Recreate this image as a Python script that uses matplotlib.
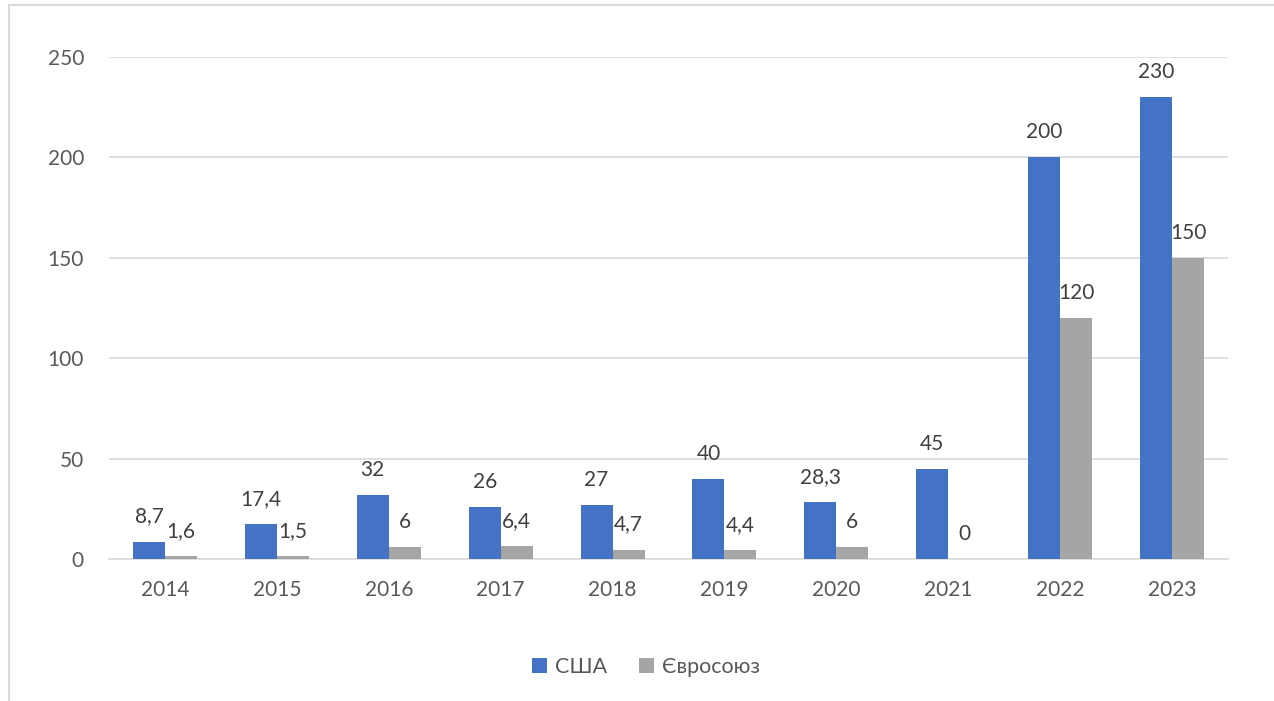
import matplotlib.pyplot as plt
import numpy as np
from matplotlib.lines import Line2D
from matplotlib.patches import Patch

years = ["2014", "2015", "2016", "2017", "2018", "2019", "2020", "2021", "2022", "2023"]
usa = [8.7, 17.4, 32, 26, 27, 40, 28.3, 45, 200, 230]
eu = [1.6, 1.5, 6, 6.4, 4.7, 4.4, 6, 0, 120, 150]
series_names = ["США", "Євросоюз"]

BLUE = "#4472C4"
GRAY = "#A5A5A5"
TEXT = "#595959"
GRID = "#D9D9D9"

plt.rcParams["font.family"] = ["Lato", "Noto Sans", "DejaVu Sans"]


def _fmt(v: float) -> str:
    s = f"{v:g}"
    return s.replace(".", ",")


fig = plt.figure(figsize=(12.74, 7.01), dpi=100)
ax = fig.add_axes([109 / 1274, 142 / 701, 1119 / 1274, 502 / 701])

x = np.arange(len(years))
w = 0.286
bars_usa = ax.bar(x - w / 2, usa, width=w, color=BLUE, zorder=3)
bars_eu = ax.bar(x + w / 2, eu, width=w, color=GRAY, zorder=3)

for bars, vals in ((bars_usa, usa), (bars_eu, eu)):
    for b, v in zip(bars, vals):
        ax.annotate(_fmt(v), (b.get_x() + b.get_width() / 2, v),
                    xytext=(0, 18), textcoords="offset points",
                    ha="center", va="center", fontsize=15, color="#404040",
                    annotation_clip=False)

ax.set_xlim(-0.5, len(years) - 0.5)
ax.set_ylim(0, 250)
ax.set_yticks([0, 50, 100, 150, 200, 250])
ax.set_xticks(x)
ax.set_xticklabels(years)
ax.yaxis.grid(True, color=GRID, linewidth=1.2, zorder=0)
ax.tick_params(axis="both", length=0, labelsize=15, labelcolor=TEXT)
ax.tick_params(axis="y", pad=18)
ax.tick_params(axis="x", pad=15)
for side in ("top", "right", "left"):
    ax.spines[side].set_visible(False)
ax.spines["bottom"].set_color(GRID)
ax.spines["bottom"].set_linewidth(1.2)

handles = [Patch(facecolor=BLUE), Patch(facecolor=GRAY)]
fig.legend(handles, series_names, loc="center", bbox_to_anchor=(0.507, 0.0485),
           ncol=2, frameon=False, fontsize=15.5, labelcolor=TEXT,
           handlelength=0.7, handleheight=0.7, handletextpad=0.35, columnspacing=1.5)

# outer chart border (left and top edges visible)
fig.add_artist(Line2D([8.5 / 1274, 8.5 / 1274], [0, 1 - 5 / 701], color=GRID, linewidth=1.5))
fig.add_artist(Line2D([8.5 / 1274, 1], [1 - 5 / 701, 1 - 5 / 701], color=GRID, linewidth=1.5))

fig.savefig("out.png", dpi=100)
